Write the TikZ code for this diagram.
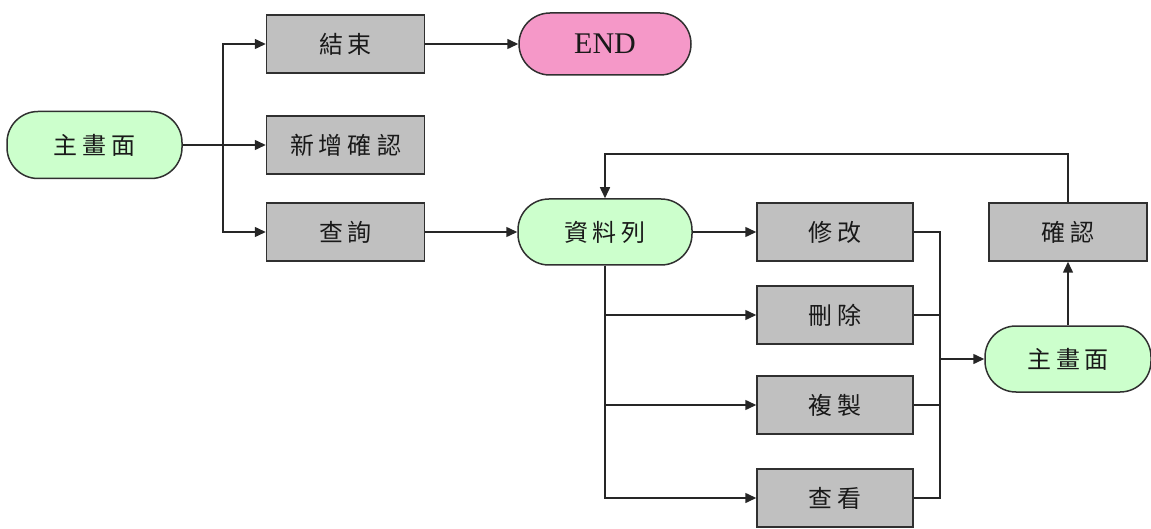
\documentclass[tikz,border=0pt]{standalone}
\usepackage{fontspec}
\setmainfont{Liberation Serif}
\newfontfamily\cjk{Noto Sans CJK TC}
\usetikzlibrary{arrows.meta}
\definecolor{boxgray}{HTML}{C0C0C0}
\definecolor{pillgreen}{HTML}{CCFFCC}
\definecolor{pillpink}{HTML}{F598C8}
\definecolor{edge}{HTML}{303030}
\newcommand{\ks}{\kern5pt}
\tikzset{
  base/.style={draw=edge, line width=1.5pt, inner sep=0pt, font=\cjk\fontsize{24}{28}\selectfont, text=black!90},
  graybox/.style={base, rectangle, fill=boxgray, minimum width=158pt, minimum height=58pt},
  pill/.style={base, rectangle, rounded corners=31pt, minimum width=172pt, minimum height=64pt},
  greenpill/.style={pill, fill=pillgreen},
  pinkpill/.style={pill, fill=pillpink, font=\fontsize{30}{34}\selectfont},
  line/.style={draw=black!85, line width=1.5pt},
  arr/.style={line, -{Triangle[length=11pt,width=10pt]}}
}
\begin{document}
\begin{tikzpicture}[x=1pt,y=-1pt]
\useasboundingbox (0,0) rectangle (1151,529);
% nodes
\node[greenpill, minimum width=175pt, minimum height=67pt] (m1) at (94.5,145) {主\ks 畫\ks 面};
\node[graybox] (jieshu) at (345.5,44) {結\ks 束};
\node[pinkpill, minimum height=62pt] (endn) at (605,44) {END};
\node[graybox] (xinzeng) at (345.5,145) {新\ks 增\ks 確\ks 認};
\node[graybox] (chaxun) at (345.5,232) {查\ks 詢};
\node[greenpill, minimum width=174pt, minimum height=66pt] (zl) at (605,232) {資\ks 料\ks 列};
\node[graybox, minimum width=156pt] (xiugai) at (835,232) {修\ks 改};
\node[graybox, minimum width=156pt] (shanchu) at (835,315) {刪\ks 除};
\node[graybox, minimum width=156pt] (fuzhi) at (835,405) {複\ks 製};
\node[graybox, minimum width=156pt] (chakan) at (835,498) {查\ks 看};
\node[graybox] (queren) at (1068,232) {確\ks 認};
\node[greenpill, minimum width=166pt, minimum height=66pt] (m2) at (1068,359) {主\ks 畫\ks 面};
% junction coordinates
\coordinate (bl) at (223,145);
\coordinate (br) at (940,359);
\coordinate (top) at (605,154);
% connectors
\draw[arr] (m1.east) -- (xinzeng.west);
\draw[arr] (bl) |- (jieshu.west);
\draw[arr] (bl) |- (chaxun.west);
\draw[arr] (jieshu.east) -- (endn.west);
\draw[arr] (chaxun.east) -- (zl.west);
\draw[arr] (zl.east) -- (xiugai.west);
\draw[arr] (zl.south) |- (shanchu.west);
\draw[arr] (zl.south) |- (fuzhi.west);
\draw[arr] (zl.south) |- (chakan.west);
\draw[line] (xiugai.east) -| (br);
\draw[line] (chakan.east) -| (br);
\draw[line] (shanchu.east) -- (shanchu.east -| br);
\draw[line] (fuzhi.east) -- (fuzhi.east -| br);
\draw[arr] (br) -- (m2.west);
\draw[arr] (m2.north) -- (queren.south);
\draw[arr] (queren.north) |- (top) -- (zl.north);
\end{tikzpicture}
\end{document}
